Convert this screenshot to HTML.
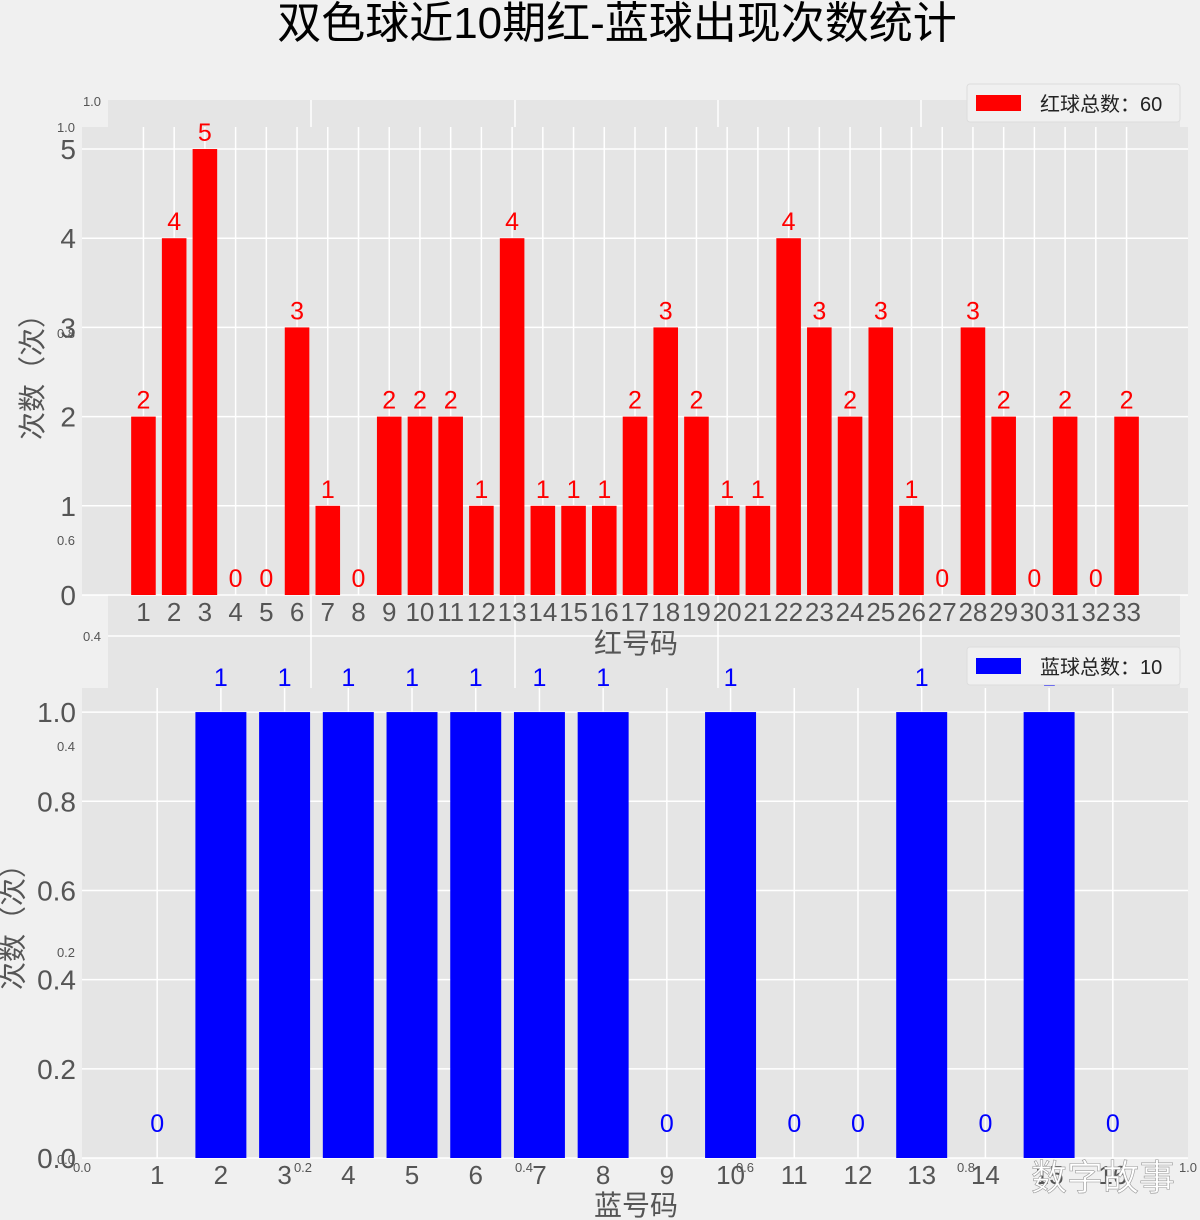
<!DOCTYPE html>
<html><head><meta charset="utf-8"><style>
body{margin:0;background:#f0f0f0;}
svg{display:block;font-family:"Liberation Sans","Noto Sans CJK SC",sans-serif;}
</style></head><body>
<svg id="c" width="1200" height="1220" xmlns="http://www.w3.org/2000/svg">
<rect width="1200" height="1220" fill="#f0f0f0"/>
<text x="617" y="38" font-size="44" text-anchor="middle" fill="#000">双色球近10期红-蓝球出现次数统计</text>
<rect x="108" y="100" width="1072" height="590" fill="#e5e5e5"/>
<g stroke="#fff" stroke-width="1.5">
<line x1="311" y1="100" x2="311" y2="690"/><line x1="515" y1="100" x2="515" y2="690"/>
<line x1="718" y1="100" x2="718" y2="690"/><line x1="921" y1="100" x2="921" y2="690"/>
<line x1="108" y1="636" x2="1180" y2="636"/>
</g>
<g font-size="13" fill="#555">
<text x="92" y="106" text-anchor="middle">1.0</text>
<text x="66" y="132" text-anchor="middle">1.0</text>
<text x="66" y="338" text-anchor="middle">0.8</text>
<text x="66" y="545" text-anchor="middle">0.6</text>
<text x="66" y="751" text-anchor="middle">0.4</text>
<text x="92" y="641" text-anchor="middle">0.4</text>
<text x="66" y="957" text-anchor="middle">0.2</text>
<text x="66" y="1164" text-anchor="middle">0.0</text>
<text x="82" y="1172" text-anchor="middle">0.0</text>
<text x="303" y="1172" text-anchor="middle">0.2</text>
<text x="524" y="1172" text-anchor="middle">0.4</text>
<text x="745" y="1172" text-anchor="middle">0.6</text>
<text x="966" y="1172" text-anchor="middle">0.8</text>
<text x="1188" y="1172" text-anchor="middle">1.0</text>
</g>
<g id="top"></g>
<g id="bot"></g>
<g>
<rect x="967" y="84" width="213" height="38" fill="#f0f0f0" stroke="#ddd" rx="3"/>
<rect x="976" y="95" width="45" height="16" fill="#ff0000"/>
<text x="1040" y="111" font-size="20" fill="#222">红球总数：60</text>
</g>
<g>
<rect x="967" y="647" width="213" height="38" fill="#f0f0f0" stroke="#ddd" rx="3"/>
<rect x="976" y="658" width="45" height="16" fill="#0000ff"/>
<text x="1040" y="674" font-size="20" fill="#222">蓝球总数：10</text>
</g>
<text x="42" y="370" font-size="28" fill="#555" text-anchor="middle" transform="rotate(-90 42 370)">次数（次）</text>
<text x="636" y="653" font-size="28" fill="#555" text-anchor="middle">红号码</text>
<text x="15" y="920" font-size="28" fill="#555" text-anchor="middle" dominant-baseline="middle" transform="rotate(-90 15 920)">次数（次）</text>
<text x="636" y="1215" font-size="28" fill="#555" text-anchor="middle">蓝号码</text>
<text x="1103" y="1190" font-size="36" fill="#fff" stroke="#999" stroke-width="0.6" text-anchor="middle">数字故事</text>
</svg>
<script>
const redNums=[1,2,3,4,5,6,7,8,9,10,11,12,13,14,15,16,17,18,19,20,21,22,23,24,25,26,27,28,29,30,31,32,33];
const redCounts=[2,4,5,0,0,3,1,0,2,2,2,1,4,1,1,1,2,3,2,1,1,4,3,2,3,1,0,3,2,0,2,0,2];
const redYTicks=[0,1,2,3,4,5];
const blueNums=[1,2,3,4,5,6,7,8,9,10,11,12,13,14,15,16];
const blueCounts=[0,1,1,1,1,1,1,1,0,1,0,0,1,0,1,0];
const blueYTicks=[0,0.2,0.4,0.6,0.8,1.0];
const NS='http://www.w3.org/2000/svg';
function mk(p,t,a,txt){const e=document.createElementNS(NS,t);for(const k in a)e.setAttribute(k,a[k]);if(txt!==undefined)e.textContent=txt;p.appendChild(e);return e;}
function draw(g,o){
  const sx=v=>o.L+(v-o.x0)/(o.x1-o.x0)*(o.R-o.L);
  const sy=v=>o.B-(v-o.y0)/(o.y1-o.y0)*(o.B-o.T);
  const bg=mk(g,'rect',{x:o.L,y:o.T,width:o.R-o.L,height:o.B-o.T,fill:'#e5e5e5'});
  
  
  o.nums.forEach(n=>{mk(g,'line',{x1:sx(n),x2:sx(n),y1:o.T,y2:o.B,stroke:'#fff','stroke-width':1.5});
    const t=mk(g,'text',{x:sx(n),y:o.B+26,'font-size':26,fill:'#555','text-anchor':'middle'},String(n));
    
    });
  o.yt.forEach(v=>{mk(g,'line',{x1:o.L,x2:o.R,y1:sy(v),y2:sy(v),stroke:'#fff','stroke-width':1.5});
    const t=mk(g,'text',{x:o.L-6,y:sy(v)+10,'font-size':28,fill:'#555','text-anchor':'end'},o.fmt(v));
    
    });
  const w=0.8*(sx(1)-sx(0));
  o.nums.forEach((n,i)=>{const v=o.vals[i];
    const r=mk(g,'rect',{x:sx(n)-w/2,y:sy(v),width:w,height:sy(0)-sy(v),fill:o.col});
    
    
    const t=mk(g,'text',{x:sx(n),y:sy(v)+o.lo,'font-size':25,fill:o.col,'text-anchor':'middle'},String(v));
    
    });
}
draw(document.getElementById('top'),{L:82,R:1188,T:127,B:595,x0:-1,x1:35,y0:0,y1:5.247,nums:redNums,vals:redCounts,yt:redYTicks,fmt:v=>String(v),col:'#ff0000',lo:-8});
draw(document.getElementById('bot'),{L:82,R:1188,T:688,B:1158,x0:-0.18,x1:17.18,y0:0,y1:1.054,nums:blueNums,vals:blueCounts,yt:blueYTicks,fmt:v=>v.toFixed(1),col:'#0000ff',lo:-26});
</script>
</body></html>
